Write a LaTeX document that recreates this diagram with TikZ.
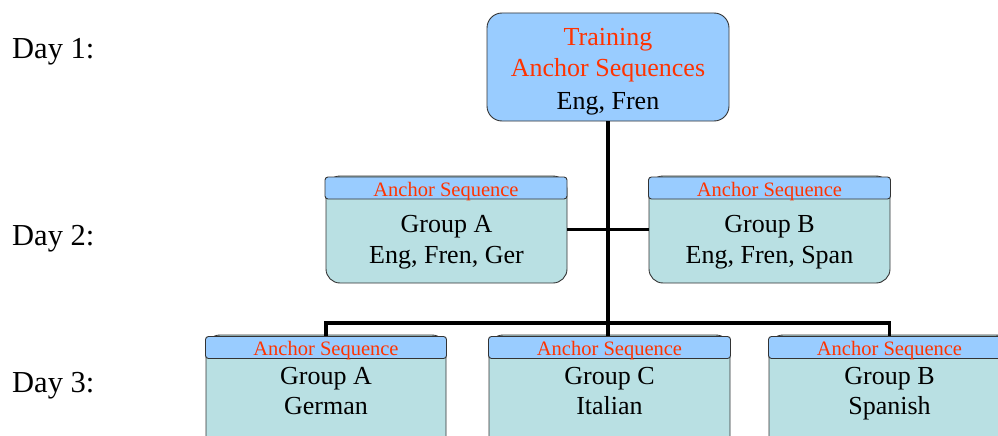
\documentclass[tikz,border=0pt]{standalone}
\usepackage{fontspec}
\setmainfont{Liberation Serif}
\definecolor{hdrblue}{RGB}{153,204,255}
\definecolor{bodyteal}{RGB}{185,224,227}
\definecolor{annred}{RGB}{255,51,0}
\begin{document}
\begin{tikzpicture}[x=1pt,y=-1pt,
  bodybox/.style={draw=black!80, line width=0.9pt, fill=bodyteal, rounded corners=14pt, inner sep=0pt},
  hdrbox/.style={draw=black!80, line width=0.9pt, fill=hdrblue, rounded corners=3pt, inner sep=0pt,
     minimum height=22pt},
  hdrtext/.style={anchor=base, inner sep=0pt, text=annred, font=\fontsize{20.5}{24}\selectfont},
  bodytext/.style={anchor=base, font=\fontsize{26}{31.5}\selectfont, inner sep=0pt},
  redtext/.style={bodytext, text=annred},
  daytext/.style={anchor=base west, font=\fontsize{30.5}{36}\selectfont, inner sep=0pt},
  conn/.style={line width=3.2pt}]
\useasboundingbox (0,0) rectangle (998,436);
\clip (0,0) rectangle (998,436);

% day labels
\node[daytext] (d1) at (12,59) {Day 1:};
\node[daytext] (d2) at (12,245) {Day 2:};
\node[daytext] (d3) at (12,392) {Day 3:};

% top box
\node[draw=black!80, line width=0.9pt, fill=hdrblue, rounded corners=15pt,
  minimum width=242pt, minimum height=108pt, inner sep=0pt] (t) at (608,67) {};
\node[redtext] (t1) at (608,45.5) {Training};
\node[redtext] (t2) at (608,77) {Anchor Sequences};
\node[bodytext] (t3) at (608,109) {Eng, Fren};

% middle boxes
\node[bodybox, minimum width=241pt, minimum height=107pt] (ga) at (446.5,229.5) {};
\node[hdrbox, minimum width=242pt] (gah) at (446,188) {};
\node[hdrtext] (gah1) at (446,196) {Anchor Sequence};
\node[bodytext] (ga1) at (446.5,232.5) {Group A};
\node[bodytext] (ga2) at (446.5,263.5) {Eng, Fren, Ger};

\node[bodybox, minimum width=241pt, minimum height=107pt] (gb) at (769.5,229.5) {};
\node[hdrbox, minimum width=242pt] (gbh) at (769.5,188) {};
\node[hdrtext] (gbh1) at (769.5,196) {Anchor Sequence};
\node[bodytext] (gb1) at (769.5,232.5) {Group B};
\node[bodytext] (gb2) at (769.5,263.5) {Eng, Fren, Span};

% bottom boxes
\node[bodybox, minimum width=240pt, minimum height=116pt] (ba) at (326,393) {};
\node[hdrbox, minimum width=241pt] (bah) at (326,347.5) {};
\node[hdrtext] (bah1) at (326,355) {Anchor Sequence};
\node[bodytext] (ba1) at (326,384.5) {Group A};
\node[bodytext] (ba2) at (326,414.5) {German};

\node[bodybox, minimum width=241pt, minimum height=116pt] (bc) at (609.5,393) {};
\node[hdrbox, minimum width=242pt] (bch) at (609.5,347.5) {};
\node[hdrtext] (bch1) at (609.5,355) {Anchor Sequence};
\node[bodytext] (bc1) at (609.5,384.5) {Group C};
\node[bodytext] (bc2) at (609.5,414.5) {Italian};

\node[bodybox, minimum width=241pt, minimum height=116pt] (bb) at (889.5,393) {};
\node[hdrbox, minimum width=242pt] (bbh) at (889.5,347.5) {};
\node[hdrtext] (bbh1) at (889.5,355) {Anchor Sequence};
\node[bodytext] (bb1) at (889.5,384.5) {Group B};
\node[bodytext] (bb2) at (889.5,414.5) {Spanish};

% connectors
\coordinate (j) at (608,323);
\draw[conn] (t.south) -- (j);
\draw[conn] (ga.east) -- (gb.west);
\draw[conn] (bah.north) |- (j) -| (bbh.north);
\draw[conn] (j) -- (j |- bch.north);
\end{tikzpicture}
\end{document}
